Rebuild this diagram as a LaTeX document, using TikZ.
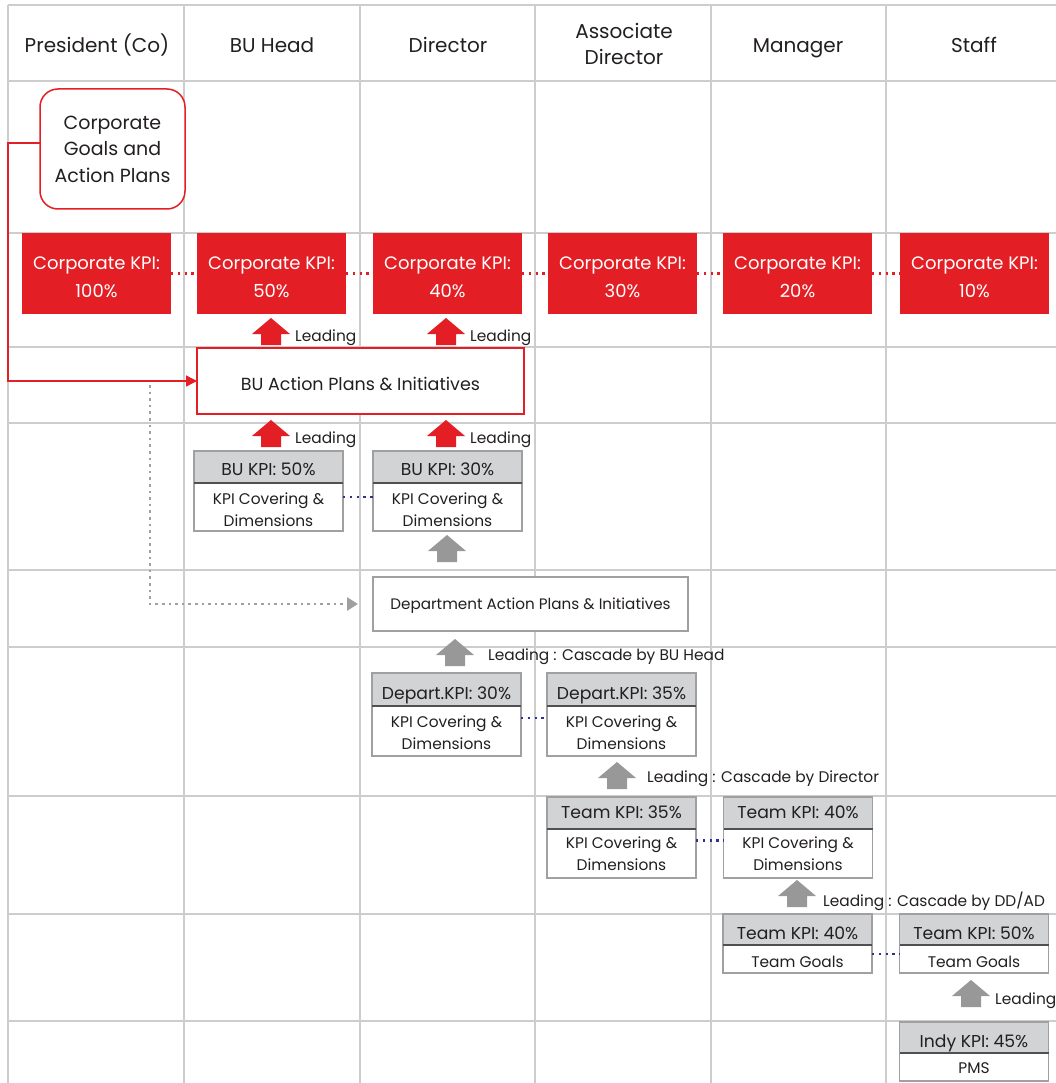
\documentclass[tikz,border=0pt]{standalone}
\usepackage{fontspec}
\setmainfont{Poppins}
\usetikzlibrary{arrows.meta,calc}

\definecolor{kred}{RGB}{227,30,36}
\definecolor{headgray}{RGB}{209,211,212}
\definecolor{boxgray}{RGB}{160,160,160}
\definecolor{arrgray}{RGB}{152,152,152}
\definecolor{gridgray}{RGB}{205,205,205}
\definecolor{ink}{RGB}{35,31,32}
\definecolor{navy}{RGB}{46,49,146}
\definecolor{divider}{RGB}{80,80,80}

\tikzset{
  gridline/.style={draw=gridgray, line width=1.2pt},
  colhead/.style={font=\fontsize{20}{26}\selectfont, align=center, text=ink,
    text depth=0pt, text height=#1},
  colhead/.default=19.4pt,
  goalbox/.style={draw=kred, line width=1.5pt, rounded corners=18pt, fill=white,
    minimum width=145pt, minimum height=120pt, inner sep=0pt, outer sep=0pt,
    align=center, font=\fontsize{19}{26.5}\selectfont, text=ink},
  redkpi/.style={fill=kred, text=white, minimum width=149pt, minimum height=80pt,
    inner sep=0pt, outer sep=0pt, align=center, font=\fontsize{18}{28}\selectfont,
    text depth=0pt, text height=48.6pt},
  planbox/.style={draw=#1, fill=white, inner sep=0pt, outer sep=0pt, text=ink,
    text depth=0pt},
  kpihead/.style={draw=boxgray, fill=headgray, line width=1.5pt, minimum width=149pt,
    inner sep=0pt, outer sep=0pt, text=ink, font=\fontsize{17.2}{20}\selectfont,
    text depth=0pt},
  kpibody/.style={draw=boxgray, fill=white, line width=1.5pt, minimum width=149pt,
    inner sep=0pt, outer sep=0pt, align=center, text=ink, font=\fontsize{15.4}{22}\selectfont,
    text depth=0pt},
  splitline/.style={draw=divider, line width=2pt},
  leadtext/.style={anchor=base west, inner sep=0pt, text=ink, font=\fontsize{15.4}{18}\selectfont},
  reddots/.style={draw=kred, line width=2.3pt, dash pattern=on 2.4pt off 4.4pt},
  bluedots/.style={draw=navy, line width=2.5pt, dash pattern=on 2.4pt off 4.4pt},
  graydots/.style={draw=boxgray, line width=2.6pt, dash pattern=on 2.6pt off 4pt},
  redroute/.style={draw=kred, line width=1.5pt},
  blockup/.pic={\path[pic actions] (0,0) -- (19,16) -- (10,16) -- (10,27)
     -- (-10,27) -- (-10,16) -- (-19,16) -- cycle;}
}

% two-part KPI box: name, centre x, top y, header options, body options,
% header text, body text
\newcommand\kpibox[7]{%
  \node[kpihead, #4, anchor=north] (#1-h) at (#2,#3) {#6};
  \node[kpibody, #5, anchor=north] (#1-b) at (#1-h.south) {#7};
  \draw[splitline] (#1-h.south west) -- (#1-h.south east);
}

\begin{document}
\begin{tikzpicture}[x=1pt,y=-1pt]
\useasboundingbox[fill=white] (0,0) rectangle (1056,1083);

% swim-lane grid
\foreach \gx in {8,184,360,535,711,886} \draw[gridline] (\gx,5) -- (\gx,1083);
\foreach \gy in {5,81,233,347,423,570,647,796,914,1021} \draw[gridline] (8,\gy) -- (1056,\gy);

% lane titles
\node[colhead] (h-pres) at (97,43) {President (Co)};
\node[colhead] (h-bu)   at (272,43) {BU Head};
\node[colhead] (h-dir)  at (448,43) {Director};
\node[colhead=44pt] (h-ad) at (624,43) {Associate\\Director};
\node[colhead] (h-mgr)  at (798,43) {Manager};
\node[colhead] (h-stf)  at (974,43) {Staff};

% corporate goals
\node[goalbox] (goals) at (112.5,149) {Corporate\\Goals and\\Action Plans};

% corporate KPI row
\node[redkpi] (ck1) at (96.5,273.5)  {Corporate KPI:\\100\%};
\node[redkpi] (ck2) at (271.5,273.5) {Corporate KPI:\\50\%};
\node[redkpi] (ck3) at (447.5,273.5) {Corporate KPI:\\40\%};
\node[redkpi] (ck4) at (622.5,273.5) {Corporate KPI:\\30\%};
\node[redkpi] (ck5) at (797.5,273.5) {Corporate KPI:\\20\%};
\node[redkpi] (ck6) at (974.5,273.5) {Corporate KPI:\\10\%};
\foreach \a/\b in {ck1/ck2,ck2/ck3,ck3/ck4,ck4/ck5,ck5/ck6}
  \draw[reddots] (\a.east) -- (\b.west);

% BU action plans
\node[planbox=kred, line width=2pt, minimum width=327pt, minimum height=66pt,
      font=\fontsize{17.5}{20}\selectfont, text height=18.2pt] (buap) at (360.5,381)
      {BU Action Plans \& Initiatives};

\pic[fill=kred] at (271,318) {blockup};
\pic[fill=kred] at (446,318) {blockup};
\node[leadtext] (l1) at (295,341) {Leading};
\node[leadtext] (l2) at (470,341) {Leading};

\pic[fill=kred] at (271,420) {blockup};
\pic[fill=kred] at (446,420) {blockup};
\node[leadtext] (l3) at (295,443) {Leading};
\node[leadtext] (l4) at (470,443) {Leading};

% BU KPIs
\kpibox{bu1}{268.5}{451}{minimum height=32pt, text height=17pt}{minimum height=48pt, text height=38.8pt}
  {BU KPI: 50\%}{KPI Covering \&\\Dimensions}
\kpibox{bu2}{447.5}{451}{minimum height=32pt, text height=17pt}{minimum height=48pt, text height=38.8pt}
  {BU KPI: 30\%}{KPI Covering \&\\Dimensions}
\draw[bluedots] ($(bu1-b.east)+(0,-10)$) -- ($(bu2-b.west)+(0,-10)$);
\pic[fill=arrgray] at (447,535) {blockup};

% department action plans
\node[planbox=boxgray, line width=1.5pt, minimum width=315pt, minimum height=54pt,
      font=\fontsize{15.2}{18}\selectfont, text height=11pt] (dap) at (530.5,604)
      {Department Action Plans \& Initiatives};

% connectors from the corporate goals
\coordinate (rail) at (8,143);
\draw[redroute, -{Triangle[length=11pt,width=11pt]}] ($(goals.west)+(0,-6)$) -- (rail) |- (buap.west);
\coordinate (drop) at (150,385);
\draw[graydots, -{Triangle[length=11pt,width=13pt]}, shorten >=15pt] (drop) |- (dap.west);

\pic[fill=arrgray] at (455,639) {blockup};
\node[leadtext] (l5) at (488,660) {Leading : Cascade by BU Head};

% department KPIs
\kpibox{dp1}{446.5}{673}{minimum height=33pt, text height=19.6pt}{minimum height=50pt, text height=37.8pt}
  {Depart.KPI: 30\%}{KPI Covering \&\\Dimensions}
\kpibox{dp2}{621.5}{673}{minimum height=33pt, text height=19.6pt}{minimum height=50pt, text height=37.8pt}
  {Depart.KPI: 35\%}{KPI Covering \&\\Dimensions}
\draw[bluedots] ($(dp1-b.east)+(0,-13)$) -- ($(dp2-b.west)+(0,-13)$);

\pic[fill=arrgray] at (617,762) {blockup};
\node[leadtext] (l6) at (647,782) {Leading : Cascade by Director};

% team KPIs
\kpibox{tm1}{621.5}{797}{minimum height=32pt, text height=11pt}{minimum height=49pt, text height=33pt}
  {Team KPI: 35\%}{KPI Covering \&\\Dimensions}
\kpibox{tm2}{798}{797}{minimum height=32pt, text height=11pt}{minimum height=49pt, text height=33pt}
  {Team KPI: 40\%}{KPI Covering \&\\Dimensions}
\draw[bluedots] ($(tm1-b.east)+(0,-13)$) -- ($(tm2-b.west)+(0,-13)$);

\pic[fill=arrgray] at (797,880) {blockup};
\node[leadtext] (l7) at (823,906) {Leading : Cascade by DD/AD};

% team goals
\kpibox{tg1}{797.5}{914}{minimum height=31pt, text height=19pt}{minimum height=28pt, text height=16.2pt}
  {Team KPI: 40\%}{Team Goals}
\kpibox{tg2}{974}{914}{minimum height=31pt, text height=19pt}{minimum height=28pt, text height=16.2pt}
  {Team KPI: 50\%}{Team Goals}
\draw[bluedots] ($(tg1-b.east)+(0,-5)$) -- ($(tg2-b.west)+(0,-5)$);

\pic[fill=arrgray] at (971,980) {blockup};
\node[leadtext] (l8) at (995,1004) {Leading};

% individual KPI
\kpibox{ind}{974}{1022}{minimum height=31pt, text height=20pt}{minimum height=28pt, text height=12pt}
  {Indy KPI: 45\%}{PMS}
\end{tikzpicture}
\end{document}
